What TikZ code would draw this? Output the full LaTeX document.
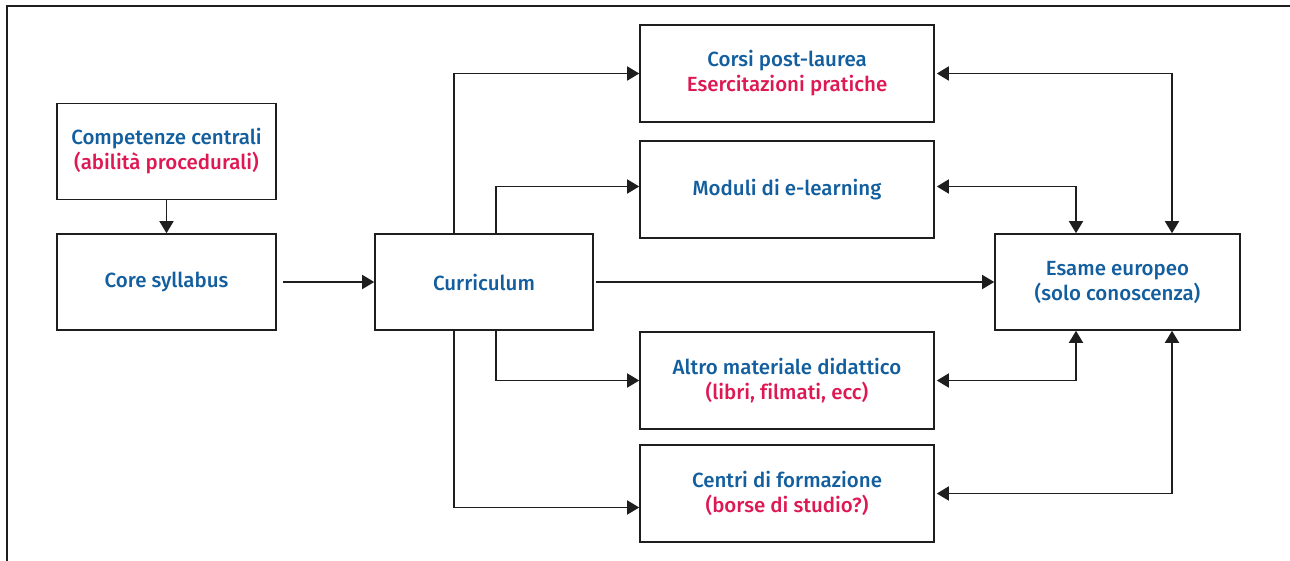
\documentclass[tikz,border=0pt]{standalone}
\usepackage{fontspec}
\setmainfont{Fira Sans}[UprightFont=* Medium,Ligatures=NoCommon]
\usetikzlibrary{arrows.meta,calc}
\definecolor{tblue}{RGB}{18,94,158}
\definecolor{tred}{RGB}{222,24,82}
\definecolor{lnc}{RGB}{30,30,30}
\tikzset{
  box/.style={draw=lnc,line width=1.6pt,fill=white,align=center,inner sep=0pt,
    font=\fontsize{20.5}{25}\selectfont,text=tblue},
  smallbox/.style={box,minimum width=219pt,minimum height=96pt},
  midbox/.style={box,minimum width=294pt,minimum height=97pt},
  arr/.style={draw=lnc,line width=1.6pt,-{Triangle[length=12pt,width=14pt]}},
  darr/.style={draw=lnc,line width=1.6pt,{Triangle[length=12pt,width=14pt]}-{Triangle[length=12pt,width=14pt]}}
}
\begin{document}
\begin{tikzpicture}[x=1pt,y=-1pt]
\useasboundingbox (0,0) rectangle (1290,560);
\draw[line width=1.8pt,lnc] (7,561) -- (7,6) -- (1291,6);
\node[smallbox] (comp) at (166.5,151.5) {Competenze centrali\\\textcolor{tred}{(abilità procedurali)}};
\node[smallbox] (core) at (166.5,282) {Core syllabus};
\node[smallbox,minimum width=218pt] (curr) at (484,282) {Curriculum};
\node[midbox] (corsi) at (787,73.5) {Corsi post-laurea\\\textcolor{tred}{Esercitazioni pratiche}};
\node[midbox] (mod) at (787,189.5) {Moduli di e-learning};
\node[midbox] (altro) at (787,380.5) {Altro materiale didattico\\\textcolor{tred}{(libri, filmati, ecc)}};
\node[midbox] (centri) at (787,493.5) {Centri di formazione\\\textcolor{tred}{(borse di studio?)}};
\node[box,minimum width=245pt,minimum height=96pt] (esame) at (1117.5,282) {Esame europeo\\(solo conoscenza)};
\coordinate (bx1) at (454,0);
\coordinate (bx2) at (496,0);
\coordinate (ex1) at (1076,0);
\coordinate (ex2) at (1172,0);
\coordinate (cin) at ([yshift=-14pt]centri.west);
% left side
\draw[arr] (comp.south) -- (core.north);
\draw[arr] ([xshift=6pt]core.east) -- (curr.west);
\draw[arr] (bx1 |- curr.north) |- (corsi.west);
\draw[arr] (bx2 |- curr.north) |- ([yshift=3pt]mod.west);
\draw[arr] ([xshift=2pt]curr.east) -- (esame.west);
\draw[arr] (bx2 |- curr.south) |- (altro.west);
\draw[arr] (bx1 |- curr.south) |- (cin);
% right side
\draw[darr] ([xshift=2pt]corsi.east) -| (ex2 |- esame.north);
\draw[darr] ([xshift=2pt,yshift=3pt]mod.east) -| (ex1 |- esame.north);
\draw[darr] ([xshift=2pt]altro.east) -| (ex1 |- esame.south);
\draw[darr] ([xshift=2pt]centri.east) -| (ex2 |- esame.south);
\end{tikzpicture}
\end{document}
